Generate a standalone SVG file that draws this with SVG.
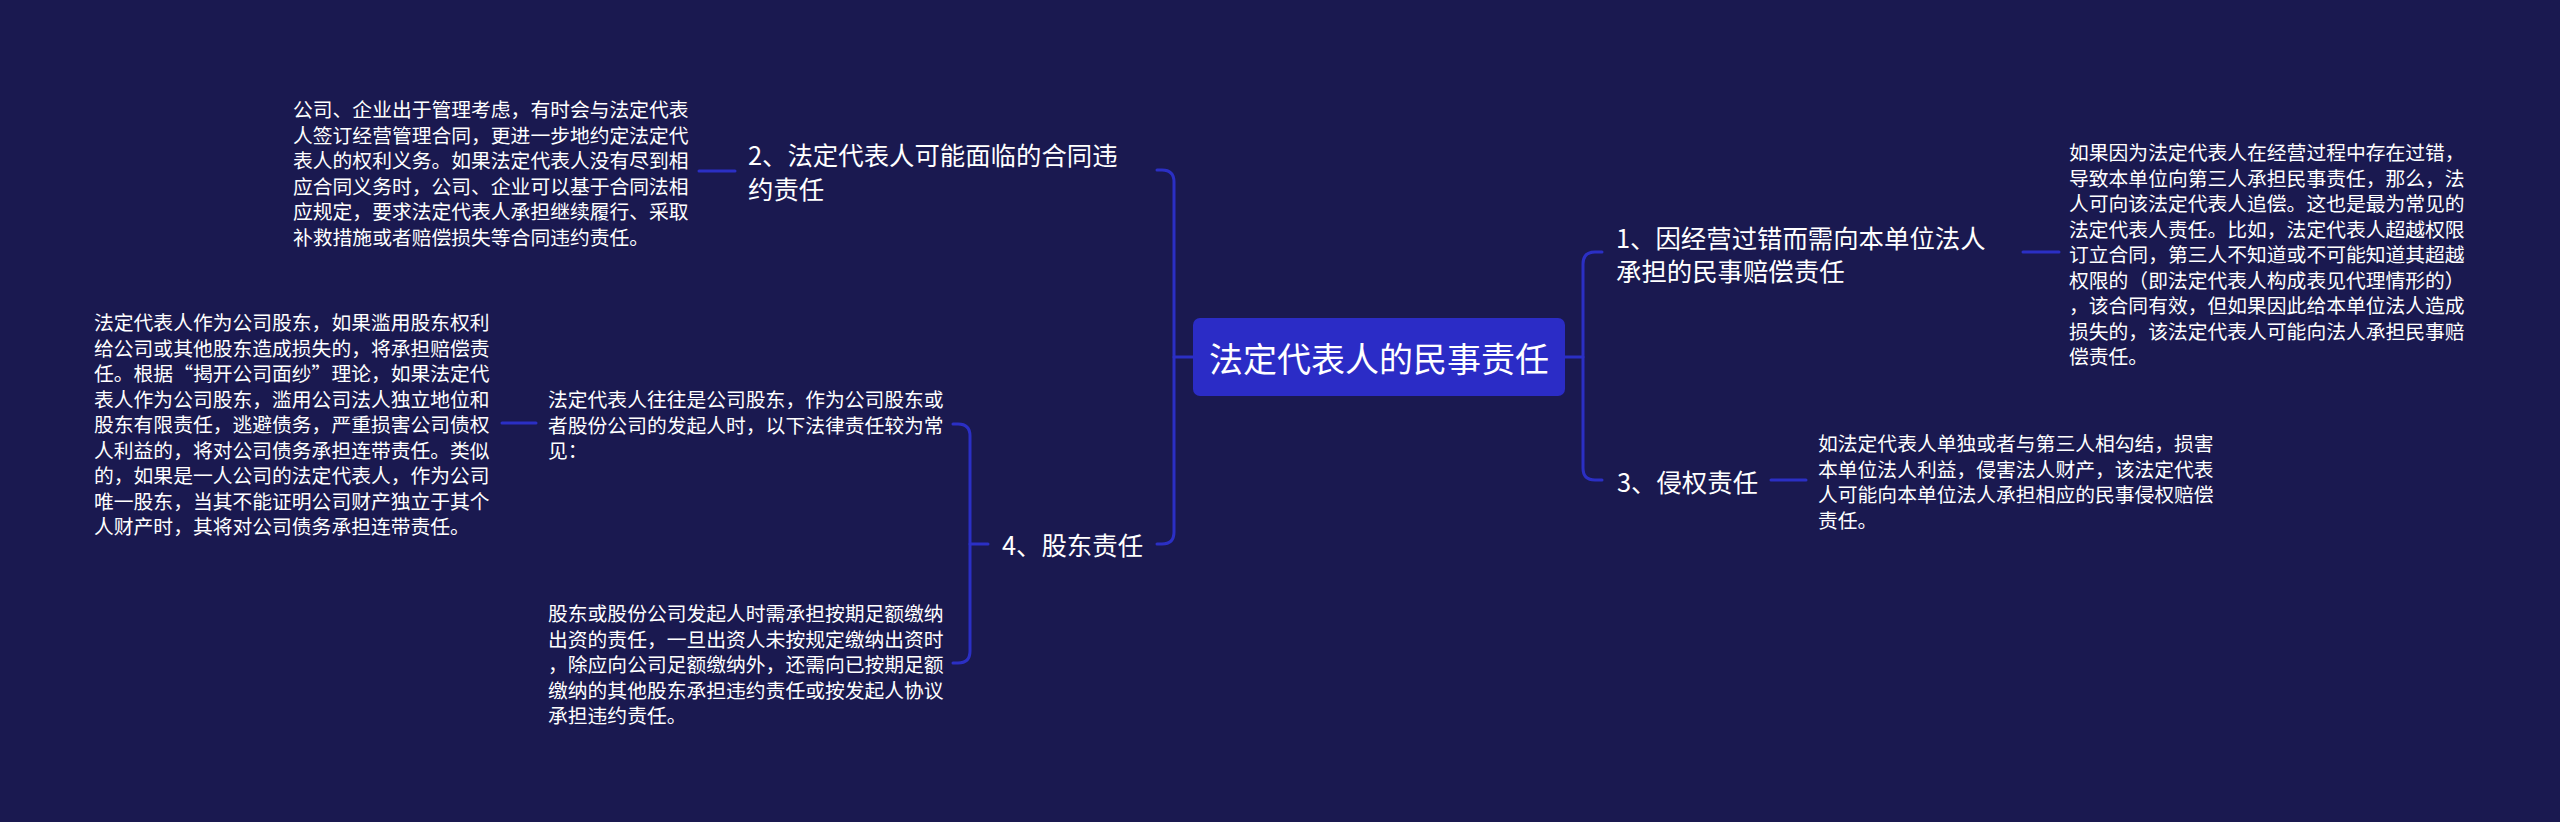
<svg xmlns="http://www.w3.org/2000/svg" width="2560" height="822" viewBox="0 0 2560 822">
<style>
text{font-family:"Noto Sans CJK SC","Noto Sans",sans-serif;fill:#ffffff;dominant-baseline:central}
.root{font-size:34px;text-anchor:middle}
.br{font-size:25.4px}
.lf{font-size:19.8px}
.ln{fill:none;stroke:#2b2fc4;stroke-width:3;stroke-linecap:round;stroke-linejoin:round}
</style>
<rect x="0" y="0" width="2560" height="822" fill="#1a1950"/>
<g id="connectors">
<path class="ln" d="M1193,357 H1174 V182 Q1174,170 1162,170 H1157"/>
<path class="ln" d="M1174,357 V532 Q1174,544 1162,544 H1157"/>
<path class="ln" d="M1565,357 H1583 V264 Q1583,252 1595,252 H1602"/>
<path class="ln" d="M1583,357 V468 Q1583,480 1595,480 H1602"/>
<path class="ln" d="M988,544 H970 V436 Q970,424 958,424 H953"/>
<path class="ln" d="M970,544 V651 Q970,663 958,663 H953"/>
<path class="ln" d="M699,171 H735"/>
<path class="ln" d="M2023,252 H2059"/>
<path class="ln" d="M1771,480 H1806"/>
<path class="ln" d="M502,423 H536"/>
</g>
<g id="root">
<rect x="1193" y="318" width="372" height="78" rx="7" fill="#2b2cc6"/>
<text class="root" x="1379" y="357">法定代表人的民事责任</text>
</g>
<g id="b1">
<text class="br"><tspan x="1616" y="237">1、因经营过错而需向本单位法人</tspan><tspan x="1616" y="270">承担的民事赔偿责任</tspan></text>
</g>
<g id="b1-leaf">
<text class="lf"><tspan x="2069" y="151">如果因为法定代表人在经营过程中存在过错，</tspan><tspan x="2069" y="176.5">导致本单位向第三人承担民事责任，那么，法</tspan><tspan x="2069" y="202">人可向该法定代表人追偿。这也是最为常见的</tspan><tspan x="2069" y="227.5">法定代表人责任。比如，法定代表人超越权限</tspan><tspan x="2069" y="253">订立合同，第三人不知道或不可能知道其超越</tspan><tspan x="2069" y="278.5">权限的（即法定代表人构成表见代理情形的）</tspan><tspan x="2069" y="304">，该合同有效，但如果因此给本单位法人造成</tspan><tspan x="2069" y="329.5">损失的，该法定代表人可能向法人承担民事赔</tspan><tspan x="2069" y="355">偿责任。</tspan></text>
</g>
<g id="b3">
<text class="br" x="1617" y="481">3、侵权责任</text>
</g>
<g id="b3-leaf">
<text class="lf"><tspan x="1818" y="442">如法定代表人单独或者与第三人相勾结，损害</tspan><tspan x="1818" y="467.5">本单位法人利益，侵害法人财产，该法定代表</tspan><tspan x="1818" y="493">人可能向本单位法人承担相应的民事侵权赔偿</tspan><tspan x="1818" y="518.5">责任。</tspan></text>
</g>
<g id="b2">
<text class="br"><tspan x="748" y="154">2、法定代表人可能面临的合同违</tspan><tspan x="748" y="187.5">约责任</tspan></text>
</g>
<g id="b2-leaf">
<text class="lf"><tspan x="293" y="108">公司、企业出于管理考虑，有时会与法定代表</tspan><tspan x="293" y="133.5">人签订经营管理合同，更进一步地约定法定代</tspan><tspan x="293" y="159">表人的权利义务。如果法定代表人没有尽到相</tspan><tspan x="293" y="184.5">应合同义务时，公司、企业可以基于合同法相</tspan><tspan x="293" y="210">应规定，要求法定代表人承担继续履行、采取</tspan><tspan x="293" y="235.5">补救措施或者赔偿损失等合同违约责任。</tspan></text>
</g>
<g id="b4">
<text class="br" x="1002" y="544">4、股东责任</text>
</g>
<g id="b4-leaf1">
<text class="lf"><tspan x="548" y="398">法定代表人往往是公司股东，作为公司股东或</tspan><tspan x="548" y="423.5">者股份公司的发起人时，以下法律责任较为常</tspan><tspan x="548" y="449">见：</tspan></text>
</g>
<g id="b4-leaf1-detail">
<text class="lf"><tspan x="94" y="321">法定代表人作为公司股东，如果滥用股东权利</tspan><tspan x="94" y="346.5">给公司或其他股东造成损失的，将承担赔偿责</tspan><tspan x="94" y="372">任。根据“揭开公司面纱”理论，如果法定代</tspan><tspan x="94" y="397.5">表人作为公司股东，滥用公司法人独立地位和</tspan><tspan x="94" y="423">股东有限责任，逃避债务，严重损害公司债权</tspan><tspan x="94" y="448.5">人利益的，将对公司债务承担连带责任。类似</tspan><tspan x="94" y="474">的，如果是一人公司的法定代表人，作为公司</tspan><tspan x="94" y="499.5">唯一股东，当其不能证明公司财产独立于其个</tspan><tspan x="94" y="525">人财产时，其将对公司债务承担连带责任。</tspan></text>
</g>
<g id="b4-leaf2">
<text class="lf"><tspan x="548" y="612">股东或股份公司发起人时需承担按期足额缴纳</tspan><tspan x="548" y="637.5">出资的责任，一旦出资人未按规定缴纳出资时</tspan><tspan x="548" y="663">，除应向公司足额缴纳外，还需向已按期足额</tspan><tspan x="548" y="688.5">缴纳的其他股东承担违约责任或按发起人协议</tspan><tspan x="548" y="714">承担违约责任。</tspan></text>
</g>
</svg>
